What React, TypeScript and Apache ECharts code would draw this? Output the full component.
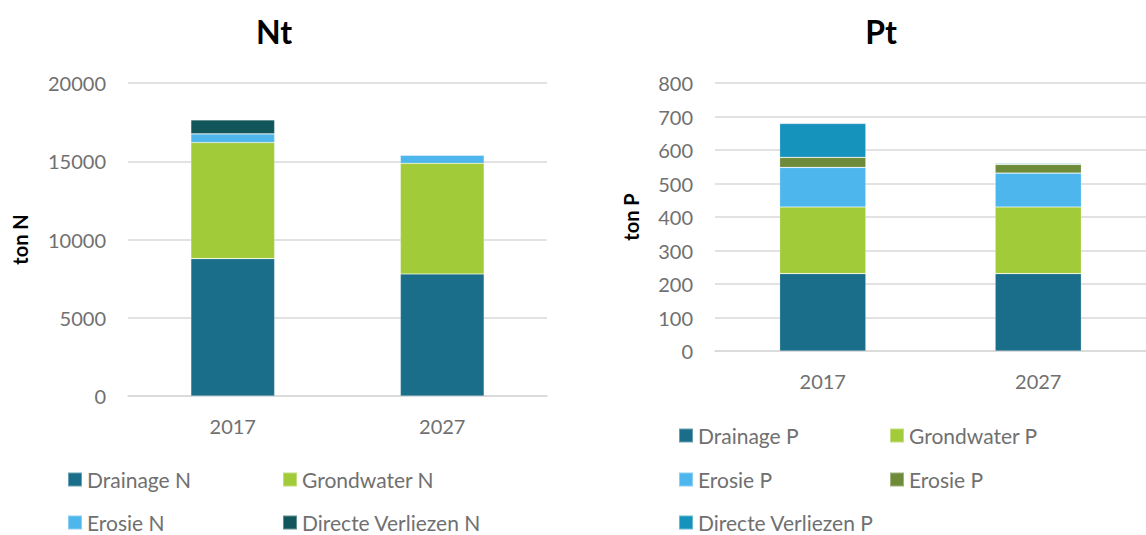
import React, { useEffect, useRef } from "react";
import * as echarts from "echarts";

const years = ["2017", "2027"];

const drainageN = [8780, 7800];
const grondwaterN = [7420, 7070];
const erosieN = [550, 510];
const directeN = [895, 20];

const drainageP = [231, 231];
const grondwaterP = [199, 199];
const erosieP = [118, 101];
const erosieP2 = [30, 26];
const directeP = [101, 3];

const nTicks = { min: 0, max: 20000, interval: 5000 };
const pTicks = { min: 0, max: 800, interval: 100 };

const C_DRAIN = "#1b6e8a";
const C_GROND = "#a2cb3a";
const C_EROS = "#4db6ec";
const C_DIRN = "#10565a";
const C_EROS2 = "#6e8b3a";
const C_DIRP = "#1593bd";

const FONT = "Lato, 'Open Sans', sans-serif";
const GREY = "#707070";

export default function App() {
  const ref = useRef<HTMLDivElement>(null);
  useEffect(() => {
    if (!ref.current) return;
    const chart = echarts.init(ref.current, null, { renderer: "svg" });

    const bar = (name: string, data: number[], color: string, idx: number, stack: string) => ({
      type: "bar",
      name,
      data,
      stack,
      xAxisIndex: idx,
      yAxisIndex: idx,
      barWidth: "40%",
      itemStyle: { color, borderColor: "rgba(255,255,255,0.35)", borderWidth: 0.6 },
    });

    const xAx = (gi: number) => ({
      type: "category",
      gridIndex: gi,
      data: years,
      axisTick: { show: false },
      axisLine: { show: true, lineStyle: { color: "#d9d9d9", width: 1.5 } },
      axisLabel: { color: GREY, fontFamily: FONT, fontSize: 20, margin: 20 },
    });
    const yAx = (gi: number, t: any, name: string, gap: number) => ({
      type: "value",
      gridIndex: gi,
      min: t.min,
      max: t.max,
      interval: t.interval,
      name,
      nameLocation: "middle",
      nameGap: gap,
      nameRotate: 90,
      nameTextStyle: { color: "#000", fontFamily: FONT, fontSize: 20, fontWeight: "bold" },
      axisLine: { show: false },
      axisTick: { show: false },
      axisLabel: { color: GREY, fontFamily: FONT, fontSize: 20, margin: 22, formatter: (v: number) => String(v) },
      splitLine: { lineStyle: { color: "#d9d9d9", width: 1.5 } },
    });

    const leg = (name: string, left: number, top: number) => ({
      data: [name],
      left,
      top,
      orient: "horizontal",
      itemWidth: 14,
      itemHeight: 14,
      itemGap: 6,
      icon: "rect",
      selectedMode: false,
      formatter: (n: string) => n.replace(" (2)", ""),
      textStyle: { color: GREY, fontFamily: FONT, fontSize: 21, padding: [0, 0, 0, 0] },
      padding: 0,
    });

    chart.setOption({
      animation: false,
      title: [
        { text: "Nt", left: 269, top: 10, textAlign: "center", textStyle: { fontFamily: FONT, fontSize: 32, fontWeight: "bold", color: "#000" } },
        { text: "Pt", left: 876, top: 10, textAlign: "center", textStyle: { fontFamily: FONT, fontSize: 32, fontWeight: "bold", color: "#000" } },
      ],
      grid: [
        { left: 128, top: 83, width: 419, height: 313 },
        { left: 715, top: 83, width: 435, height: 268 },
      ],
      xAxis: [xAx(0), xAx(1)],
      yAxis: [yAx(0, nTicks, "ton N", 98), yAx(1, pTicks, "ton P", 74)],
      legend: [
        leg("Drainage N", 67, 469),
        leg("Grondwater N", 282, 469),
        leg("Erosie N", 67, 512),
        leg("Directe Verliezen N", 282, 512),
        leg("Drainage P", 678, 425),
        leg("Grondwater P", 889, 425),
        leg("Erosie P", 678, 469),
        leg("Erosie P (2)", 889, 469),
        leg("Directe Verliezen P", 678, 512),
      ],
      series: [
        bar("Drainage N", drainageN, C_DRAIN, 0, "n"),
        bar("Grondwater N", grondwaterN, C_GROND, 0, "n"),
        bar("Erosie N", erosieN, C_EROS, 0, "n"),
        bar("Directe Verliezen N", directeN, C_DIRN, 0, "n"),
        bar("Drainage P", drainageP, C_DRAIN, 1, "p"),
        bar("Grondwater P", grondwaterP, C_GROND, 1, "p"),
        bar("Erosie P", erosieP, C_EROS, 1, "p"),
        bar("Erosie P (2)", erosieP2, C_EROS2, 1, "p"),
        bar("Directe Verliezen P", directeP, C_DIRP, 1, "p"),
      ],
    });
    return () => chart.dispose();
  }, []);
  return (
    <div
      ref={ref}
      style={{ position: "fixed", left: 0, top: 0, width: 1146, height: 535, background: "#fff" }}
    />
  );
}
